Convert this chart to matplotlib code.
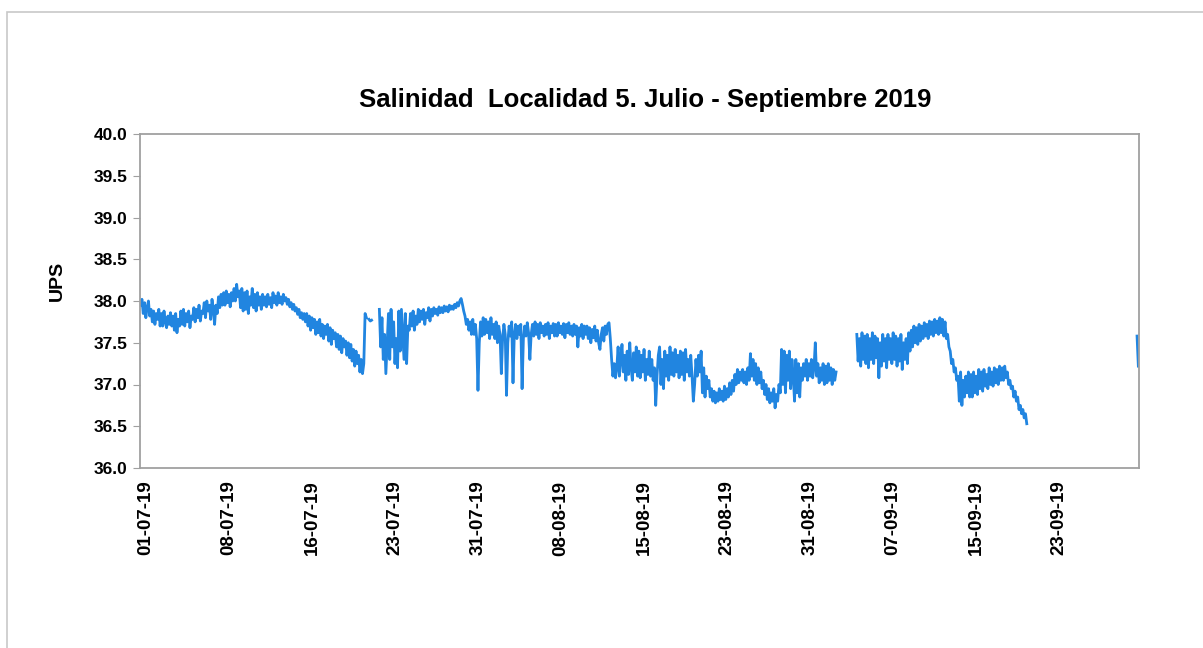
import numpy as np
import matplotlib
matplotlib.use("Agg")
import matplotlib.pyplot as plt
from matplotlib.patches import Rectangle

nan = np.nan

# salinity readings (UPS), one value per category on the Excel-style axis,
# 64 categories between consecutive date labels
block0 = [37.95, 38.02, 37.85, 37.98, 37.8, 37.92, 38.0, 37.82,
          37.9, 37.75, 37.88, 37.72, 37.85, 37.78, 37.9, 37.7,
          37.85, 37.7, 37.88, 37.75, 37.68, 37.82, 37.72, 37.86,
          37.7, 37.82, 37.65, 37.85, 37.62, 37.78, 37.7, 37.88,
          37.72, 37.9, 37.7, 37.85, 37.75, 37.88, 37.68, 37.82,
          37.78, 37.92, 37.75, 37.9, 37.8, 37.95, 37.76, 37.88,
          37.85, 37.98, 37.8, 38.0, 37.88, 37.95, 37.78, 38.02,
          37.9, 37.72, 37.95, 37.85, 38.05, 37.92, 38.08, 37.95]
block1 = [38.1, 37.95, 38.12, 37.98, 38.08, 37.93, 38.1, 38.0,
          38.15, 38.0, 38.2, 38.05, 38.12, 37.92, 38.15, 37.88,
          38.1, 37.9, 38.12, 37.85, 38.05, 37.95, 38.15, 37.92,
          38.08, 37.88, 38.1, 37.95, 38.05, 37.9, 38.08, 37.95,
          38.05, 37.93, 38.08, 37.96, 38.04, 37.92, 38.1, 37.98,
          38.06, 37.95, 38.1, 37.98, 38.05, 37.96, 38.08, 38.0,
          38.04, 37.96, 38.02, 37.93, 37.98, 37.9, 37.96, 37.88,
          37.92, 37.84, 37.9, 37.8, 37.86, 37.78, 37.85, 37.75]
block2 = [37.85, 37.7, 37.82, 37.65, 37.8, 37.68, 37.78, 37.6,
          37.75, 37.62, 37.78, 37.58, 37.72, 37.55, 37.7, 37.6,
          37.72, 37.52, 37.68, 37.48, 37.65, 37.55, 37.62, 37.45,
          37.6, 37.42, 37.58, 37.38, 37.55, 37.45, 37.52, 37.35,
          37.5, 37.32, 37.48, 37.28, 37.42, 37.22, 37.4, 37.25,
          37.35, 37.15, 37.3, 37.13, 37.25, 37.85, 37.8, nan,
          37.78, 37.76, 37.77, nan, nan, nan, nan, nan,
          37.9, 37.45, 37.8, 37.3, 37.6, 37.13, 37.5, 37.85]
block3 = [37.3, 37.9, 37.45, 37.75, 37.25, 37.55, 37.2, 37.88,
          37.4, 37.9, 37.6, 37.3, 37.85, 37.25, 37.7, 37.65,
          37.85, 37.7, 37.88, 37.65, 37.82, 37.72, 37.9, 37.75,
          37.88, 37.78, 37.9, 37.72, 37.86, 37.8, 37.92, 37.76,
          37.9, 37.82, 37.92, 37.85, 37.9, 37.83, 37.93, 37.86,
          37.92, 37.86, 37.94, 37.88, 37.93, 37.87, 37.95, 37.9,
          37.94, 37.9, 37.96, 37.92, 37.98, 37.94, 38.0, 38.03,
          37.96, 37.88, 37.82, 37.72, 37.78, 37.65, 37.75, 37.6]
block4 = [37.78, 37.6, 37.72, 37.55, 36.93, 37.5, 37.75, 37.58,
          37.8, 37.6, 37.78, 37.62, 37.75, 37.55, 37.8, 37.6,
          37.72, 37.55, 37.75, 37.5, 37.7, 37.6, 37.13, 37.55,
          37.72, 37.6, 36.87, 37.5, 37.7, 37.58, 37.75, 37.02,
          37.6, 37.72, 37.55, 37.7, 37.6, 37.72, 36.95, 37.55,
          37.7, 37.58, 37.74, 37.62, 37.3, 37.6, 37.72, 37.58,
          37.75, 37.6, 37.72, 37.55, 37.74, 37.62, 37.7, 37.58,
          37.72, 37.6, 37.74, 37.55, 37.7, 37.62, 37.73, 37.58]
block5 = [37.72, 37.58, 37.74, 37.62, 37.7, 37.6, 37.73, 37.56,
          37.72, 37.62, 37.74, 37.6, 37.7, 37.58, 37.72, 37.6,
          37.7, 37.45, 37.68, 37.58, 37.72, 37.55, 37.7, 37.6,
          37.7, 37.55, 37.68, 37.5, 37.66, 37.56, 37.7, 37.52,
          37.65, 37.5, 37.42, 37.6, 37.68, 37.52, 37.7, 37.6,
          37.72, 37.74, 37.55, 37.3, 37.1, 37.25, 37.08, 37.2,
          37.45, 37.1, 37.3, 37.48, 37.15, 37.35, 37.05, 37.4,
          37.12, 37.5, 37.2, 37.05, 37.38, 37.15, 37.45, 37.1]
block6 = [37.4, 37.08, 37.35, 37.15, 37.42, 37.05, 37.3, 37.12,
          37.4, 37.1, 37.3, 37.05, 37.2, 36.75, 37.1, 37.35,
          37.45, 37.0, 37.3, 36.95, 37.4, 37.1, 37.35, 37.05,
          37.45, 37.12, 37.38, 37.1, 37.42, 37.15, 37.35, 37.08,
          37.4, 37.12, 37.38, 37.05, 37.42, 37.15, 37.3, 37.1,
          37.35, 37.1, 36.8, 37.0, 37.3, 37.1, 37.35, 37.15,
          37.4, 36.9, 37.2, 36.85, 37.1, 36.95, 37.05, 36.85,
          36.95, 36.8, 36.92, 36.78, 36.9, 36.8, 36.95, 36.82]
block7 = [36.92, 36.8, 36.98, 36.82, 36.95, 36.85, 37.02, 36.88,
          37.05, 36.92, 37.12, 37.0, 37.18, 37.02, 37.15, 37.05,
          37.18, 37.02, 37.15, 37.0, 37.2, 37.05, 37.37, 37.1,
          37.3, 37.05, 37.25, 37.0, 37.2, 37.02, 37.15, 36.95,
          37.05, 36.88, 37.0, 36.82, 36.95, 36.78, 36.9, 36.8,
          36.95, 36.72, 36.88, 36.8, 37.0, 36.9, 37.42, 37.0,
          37.4, 36.9, 37.35, 37.05, 37.4, 36.95, 37.3, 37.1,
          36.8, 37.3, 36.9, 37.25, 36.85, 37.2, 37.05, 37.25]
block8 = [37.1, 37.3, 37.05, 37.25, 37.1, 37.3, 37.08, 37.2,
          37.5, 37.1, 37.25, 37.02, 37.2, 37.05, 37.25, 37.0,
          37.22, 37.02, 37.25, 37.05, 37.2, 37.0, 37.18, 37.05,
          37.15, nan, nan, nan, nan, nan, nan, nan,
          nan, nan, nan, nan, nan, nan, nan, nan,
          37.6, 37.28, 37.55, 37.22, 37.62, 37.3, 37.58, 37.25,
          37.6, 37.2, 37.55, 37.3, 37.62, 37.25, 37.58, 37.32,
          37.55, 37.08, 37.5, 37.22, 37.6, 37.28, 37.55, 37.2]
block9 = [37.6, 37.3, 37.55, 37.25, 37.62, 37.3, 37.58, 37.22,
          37.55, 37.28, 37.6, 37.18, 37.5, 37.3, 37.55, 37.25,
          37.62, 37.4, 37.65, 37.45, 37.7, 37.5, 37.68, 37.48,
          37.72, 37.52, 37.7, 37.55, 37.74, 37.58, 37.72, 37.55,
          37.76, 37.6, 37.75, 37.58, 37.78, 37.62, 37.76, 37.6,
          37.8, 37.62, 37.78, 37.58, 37.75, 37.55, 37.6, 37.45,
          37.4, 37.25, 37.3, 37.15, 37.2, 37.05, 37.1, 36.8,
          37.15, 36.75, 37.05, 36.85, 37.1, 36.9, 37.15, 36.85]
block10 = [37.12, 36.85, 37.15, 36.9, 37.1, 36.88, 37.18, 36.95,
           37.15, 36.92, 37.18, 36.98, 37.12, 36.95, 37.2, 37.0,
           37.15, 36.98, 37.2, 37.02, 37.18, 37.0, 37.22, 37.05,
           37.2, 37.05, 37.22, 37.08, 37.15, 37.0, 37.05, 36.95,
           36.98, 36.85, 36.92, 36.8, 36.85, 36.7, 36.75, 36.65,
           36.7, 36.6, 36.65, 36.53] + [nan] * 20
block11 = [nan] * 64 + [37.58, 37.22]

salinity = block0 + block1 + block2 + block3 + block4 + block5 + block6 + \
    block7 + block8 + block9 + block10 + block11

tick_labels = ["01-07-19", "08-07-19", "16-07-19", "23-07-19", "31-07-19", "08-08-19",
               "15-08-19", "23-08-19", "31-08-19", "07-09-19", "15-09-19", "23-09-19"]
label_every = 64
first_label = 4

fig = plt.figure(figsize=(12.03, 6.48), dpi=100)
fig.patches.append(Rectangle((7 / 1203, -0.1), 1.2, 1 - 12 / 648 + 0.1,
                             transform=fig.transFigure, fill=False,
                             edgecolor="#c8c8c8", linewidth=1.2))

ax = fig.add_axes([140 / 1203, 1 - 468 / 648, 999 / 1203, 334 / 648])
x = np.arange(len(salinity))
ax.plot(x, salinity, color="#2185E0", linewidth=2.0)

ax.set_xlim(-0.5, len(salinity) - 0.5)
ax.set_ylim(36.0, 40.0)
ax.set_yticks(np.arange(36.0, 40.01, 0.5))
ax.set_yticklabels(["%.1f" % v for v in np.arange(36.0, 40.01, 0.5)],
                   fontsize=12.5, fontweight="bold", family="Liberation Sans")
ax.set_xticks(first_label + label_every * np.arange(len(tick_labels)))
ax.set_xticklabels(tick_labels, rotation=90, fontsize=13.5, fontweight="bold",
                   family="Liberation Sans")
ax.tick_params(axis="x", length=0, pad=9)
ax.tick_params(axis="y", length=5, color="#a0a0a0", pad=4)

for s in ax.spines.values():
    s.set_color("#a0a0a0")
    s.set_linewidth(1.3)

ax.set_ylabel("UPS", fontsize=14, fontweight="bold", family="Liberation Sans")
ax.yaxis.set_label_coords((66 - 140) / 999, (468 - 281) / 334)
fig.text(645 / 1203, 1 - 100 / 648, "Salinidad  Localidad 5. Julio - Septiembre 2019",
         ha="center", va="center", fontsize=18.5, fontweight="bold", family="Liberation Sans")

fig.savefig("out.png", dpi=100)
